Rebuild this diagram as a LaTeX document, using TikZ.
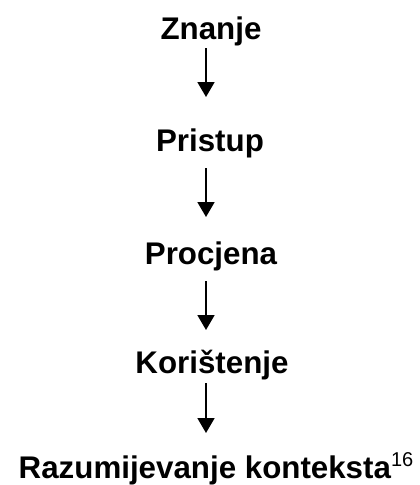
\documentclass[tikz,border=0pt]{standalone}
\usepackage{fontspec}
\setmainfont{Liberation Sans}
\usetikzlibrary{arrows.meta}
\tikzset{
  lbl/.style={anchor=base, inner sep=0pt, font=\fontsize{31.3}{37}\selectfont\bfseries},
  arr/.style={line width=1.8pt, -{Triangle[width=17pt,length=15pt]}}
}
\begin{document}
\begin{tikzpicture}[x=1pt,y=-1pt]
\useasboundingbox (0,0) rectangle (420,485);
\node[lbl] (znanje) at (211,39) {Znanje};
\node[lbl] (pristup) at (210,151) {Pristup};
\node[lbl] (procjena) at (211,264) {Procjena};
\node[lbl] (koristenje) at (212,373) {Korištenje};
\node[lbl] (razum) at (216,478) {Razumijevanje konteksta\raisebox{12pt}{\mdseries\fontsize{20}{24}\selectfont 16}};
\draw[arr] ([xshift=-5pt,yshift=-9pt]znanje.base) -- ([xshift=-4pt,yshift=54pt]pristup.base);
\draw[arr] ([xshift=-4pt,yshift=-17pt]pristup.base) -- ([xshift=-5pt,yshift=47pt]procjena.base);
\draw[arr] ([xshift=-5pt,yshift=-17pt]procjena.base) -- ([xshift=-6pt,yshift=43pt]koristenje.base);
\draw[arr] ([xshift=-6pt,yshift=-10pt]koristenje.base) -- ([xshift=-10pt,yshift=45pt]razum.base);
\end{tikzpicture}
\end{document}
